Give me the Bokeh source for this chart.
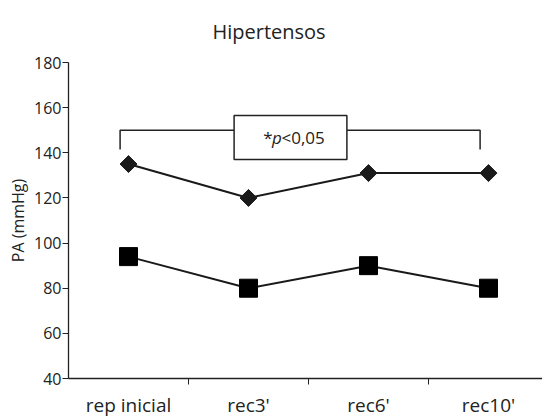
import math
from bokeh.plotting import figure
from bokeh.models import FixedTicker, Range1d, Label, BoxAnnotation
from bokeh.embed import file_html
from bokeh.resources import INLINE

categories = ["rep inicial", "rec3'", "rec6'", "rec10'"]
sistolica = [135, 120, 131, 131]
diastolica = [94, 80, 90, 80]
y_ticks = [40, 60, 80, 100, 120, 140, 160, 180]
title_text = "Hipertensos"

# significance bracket (data units)
bracket_y = 150
bracket_bottom = 141.5
bracket_x0, bracket_x1 = 0.93, 3.93
box_x0, box_x1 = 1.88, 2.82
box_y0, box_y1 = 137, 156.5

xs = [i + 1 for i in range(len(categories))]
FONT = "Open Sans"
TXT = "#222222"

p = figure(width=542, height=420, output_backend="svg", toolbar_location=None,
           x_range=Range1d(0.5, 4.45), y_range=Range1d(40, 180),
           min_border_left=68, min_border_right=0, min_border_top=62, min_border_bottom=42)
p.outline_line_color = None
p.grid.visible = False
p.background_fill_color = "white"

p.title.text = title_text
p.title.align = "left"
p.title.vertical_align = "top"
p.title.offset = 144
p.title.text_font = FONT
p.title.text_font_size = "20px"
p.title.text_font_style = "normal"
p.title.text_color = TXT
p.title.standoff = 32

# y axis
ya = p.yaxis[0]
ya.ticker = FixedTicker(ticks=y_ticks)
ya.axis_label = "PA (mmHg)"
ya.axis_label_text_font = FONT
ya.axis_label_text_font_size = "16px"
ya.axis_label_text_font_style = "normal"
ya.axis_label_text_color = TXT
ya.axis_label_standoff = 2
ya.major_label_text_font = FONT
ya.major_label_text_font_size = "16px"
ya.major_label_text_color = TXT
ya.major_label_standoff = 1
ya.major_tick_out = 6
ya.major_tick_in = 0
ya.minor_tick_out = 0
ya.minor_tick_in = 0
ya.axis_line_color = "#222222"
ya.major_tick_line_color = "#222222"
ya.axis_line_width = 1.3

# x axis
xa = p.xaxis[0]
xa.ticker = FixedTicker(ticks=xs, minor_ticks=[1.5, 2.5, 3.5])
xa.major_label_overrides = {x: c for x, c in zip(xs, categories)}
xa.major_tick_out = 0
xa.major_tick_in = 0
xa.minor_tick_out = 6
xa.minor_tick_in = 0
xa.minor_tick_line_color = "#222222"
xa.axis_line_color = "#222222"
xa.axis_line_width = 1.3
xa.major_label_text_font = FONT
xa.major_label_text_font_size = "19px"
xa.major_label_text_color = TXT
xa.major_label_standoff = 7

# bracket
p.line([bracket_x0, bracket_x0, box_x0], [bracket_bottom, bracket_y, bracket_y], line_color="#222222", line_width=1.5)
p.line([box_x1, bracket_x1, bracket_x1], [bracket_y, bracket_y, bracket_bottom], line_color="#222222", line_width=1.5)
p.add_layout(BoxAnnotation(left=box_x0, right=box_x1, bottom=box_y0, top=box_y1,
                           fill_color="white", fill_alpha=1, line_color="#222222",
                           line_alpha=1, line_width=1.5))
cx = (box_x0 + box_x1) / 2
cy = (box_y0 + box_y1) / 2
p.add_layout(Label(x=cx - 0.15, y=cy, text="*", text_font=FONT, text_font_size="17px",
                   text_color=TXT, text_align="right", text_baseline="middle"))
p.add_layout(Label(x=cx - 0.155, y=cy, text="p", text_font=FONT, text_font_size="17px",
                   text_font_style="italic", text_color=TXT, text_align="left", text_baseline="middle"))
p.add_layout(Label(x=cx - 0.075, y=cy, text="<0,05", text_font=FONT, text_font_size="17px",
                   text_color=TXT, text_align="left", text_baseline="middle"))

# series
p.line(xs, sistolica, line_color="#1a1a1a", line_width=2)
p.scatter(xs, sistolica, marker="square", size=12, angle=math.pi / 4,
          fill_color="#1a1a1a", line_color="#1a1a1a")
p.line(xs, diastolica, line_color="#1a1a1a", line_width=2)
p.scatter(xs, diastolica, marker="square", size=18, fill_color="black", line_color="black")

open("out.html", "w").write(file_html(p, INLINE))
